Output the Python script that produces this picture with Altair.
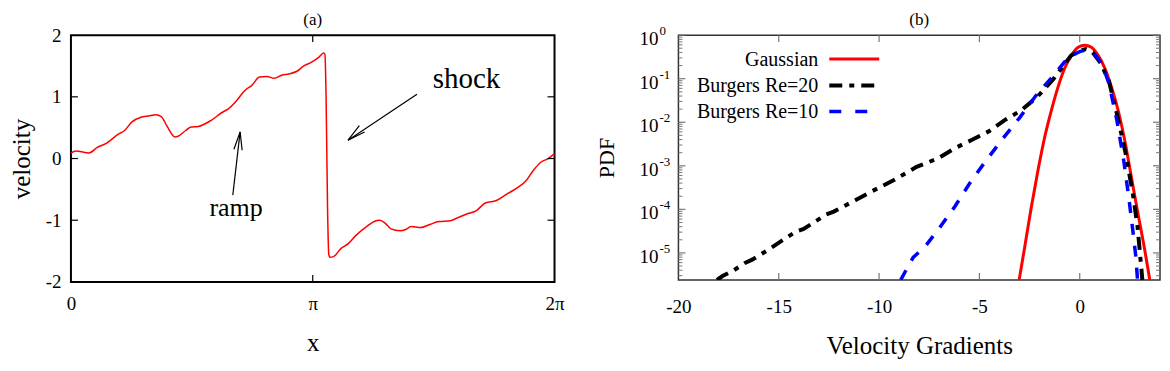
import math
import altair as alt
import pandas as pd

PI = math.pi
FONT = "Liberation Serif"

# ---------------- panel (a): velocity field ----------------
x_pos = [0.000, 0.067, 0.236, 0.342, 0.452, 0.621, 0.693, 0.789, 0.909, 1.006,
         1.102, 1.174, 1.246, 1.352, 1.390, 1.487, 1.559, 1.655, 1.823, 1.968,
         2.040, 2.160, 2.256, 2.353, 2.449, 2.545, 2.641, 2.738, 2.834, 2.930,
         3.026, 3.122, 3.219, 3.285, 3.300, 3.315, 3.334, 3.350, 3.363, 3.411,
         3.507, 3.603, 3.700, 3.844, 3.940, 4.013, 4.085, 4.157, 4.277, 4.349,
         4.421, 4.542, 4.662, 4.782, 4.927, 5.023, 5.143, 5.263, 5.384, 5.528,
         5.672, 5.817, 5.913, 6.009, 6.105, 6.201, 6.283]
velocity = [0.09, 0.12, 0.09, 0.18, 0.24, 0.40, 0.45, 0.59, 0.67, 0.69,
            0.71, 0.68, 0.53, 0.35, 0.36, 0.45, 0.51, 0.52, 0.62, 0.75,
            0.80, 0.95, 1.10, 1.19, 1.32, 1.33, 1.30, 1.35, 1.37, 1.41,
            1.50, 1.56, 1.64, 1.71, 1.69, 1.00, -0.80, -1.55, -1.60, -1.59,
            -1.46, -1.38, -1.25, -1.10, -1.02, -1.00, -1.05, -1.14, -1.17, -1.15,
            -1.10, -1.12, -1.07, -1.02, -1.01, -0.96, -0.90, -0.85, -0.72, -0.68,
            -0.57, -0.46, -0.36, -0.19, -0.06, 0.00, 0.08]

a_x_ticks = [0, PI, 2 * PI]
a_x_inner_ticks = [PI]
a_y_ticks = [-2, -1, 0, 1, 2]
a_y_inner_ticks = [-1, 0, 1]

# annotations (data coordinates)
shock_x, shock_v = [4.70], [1.14]
ramp_x, ramp_v = [2.146], [-0.934]
arrow_x0 = [4.496, 2.103]
arrow_v0 = [1.043, -0.594]
arrow_x1 = [3.600, 2.198]
arrow_v1 = [0.298, 0.432]
arrow_angle = [230.9, 6.6]

# ---------------- panel (b): PDF of velocity gradients ----------------
gauss_x = [-3.02, -2.74, -2.41, -2.08, -1.74, -1.41, -1.08, -0.75, -0.41, -0.08,
           0.25, 0.58, 0.91, 1.25, 1.58, 1.91, 2.24, 2.57, 2.90, 3.24, 3.49]
gauss_pdf = [2.4e-6, 1.38e-5, 1.15e-4, 7.9e-4, 4.7e-3, 1.9e-2, 6.5e-2, 0.174, 0.347, 0.525,
             0.589, 0.525, 0.347, 0.174, 6.5e-2, 1.9e-2, 3.9e-3, 5.6e-4, 8.1e-5, 1.17e-5, 2.4e-6]

re20_x = [-18.08, -17.80, -17.24, -16.68, -16.30, -15.46, -15.08, -14.14, -13.76, -12.64,
          -12.26, -11.14, -10.38, -9.26, -8.13, -7.06, -6.25, -5.39, -4.50, -3.74,
          -2.90, -2.10, -1.30, -0.81, -0.43, -0.06, 0.30, 0.65, 1.07, 1.25,
          1.45, 1.85, 2.28, 2.65, 2.88, 3.00, 3.12]
re20_pdf = [2.4e-6, 2.95e-6, 4.0e-6, 5.9e-6, 7.1e-6, 1.23e-5, 1.62e-5, 3.1e-5, 3.55e-5, 7.6e-5,
            8.9e-5, 1.66e-4, 2.57e-4, 4.7e-4, 9.5e-4, 1.48e-3, 2.5e-3, 3.9e-3, 6.3e-3, 1.12e-2,
            1.9e-2, 3.9e-2, 0.10, 0.20, 0.34, 0.43, 0.48, 0.40, 0.22, 0.141,
            8.9e-2, 1.58e-2, 2.0e-3, 2.24e-4, 4.0e-5, 1.0e-5, 2.4e-6]

re10_x = [-8.92, -8.72, -8.30, -7.70, -7.03, -6.23, -5.48, -4.70, -3.82, -3.00,
          -2.20, -1.35, -0.55, 0.00, 0.30, 0.70, 1.10, 1.45, 1.85, 2.20,
          2.45, 2.65, 2.80, 2.88]
re10_pdf = [2.4e-6, 3.55e-6, 7.9e-6, 1.41e-5, 3.55e-5, 1.15e-4, 4.0e-4, 1.26e-3, 4.3e-3, 1.26e-2,
            4.0e-2, 0.112, 0.316, 0.417, 0.457, 0.38, 0.224, 7.9e-2, 1.12e-2, 1.26e-3,
            1.78e-4, 3.16e-5, 7.9e-6, 2.4e-6]

b_x_ticks = [-20, -15, -10, -5, 0]
b_x_inner_ticks = [-15, -10, -5, 0]
b_decades = [1.0, 1e-1, 1e-2, 1e-3, 1e-4, 1e-5]
b_exponents = ["0", "-1", "-2", "-3", "-4", "-5"]
B_YMIN = 2.4e-6
b_minor = [m * 10.0 ** e for e in range(-6, 0) for m in range(2, 10) if m * 10.0 ** e >= B_YMIN]

legend_labels = ["Gaussian", "Burgers Re=20", "Burgers Re=10"]
panel_titles = ["(a)", "(b)"]

# ---------------- sizes ----------------
W_A, H_A = 484, 247
W_B, H_B = 482, 245

one = pd.DataFrame({"k": [0]})

# ================= panel (a) =================
a_df = pd.DataFrame({"x": x_pos, "v": velocity})
xs_a = alt.Scale(domain=[0, 2 * PI], nice=False, zero=False)
ys_a = alt.Scale(domain=[-2, 2], nice=False, zero=False)

x_axis_a = alt.Axis(values=a_x_ticks,
                    labelExpr="datum.value < 1 ? '0' : (datum.value < 4 ? 'π' : '2π')",
                    title="x", ticks=False, tickSize=0, domain=False, grid=False,
                    labelFont=FONT, labelFontSize=19, labelPadding=13, labelColor="black",
                    titleFont=FONT, titleFontSize=25, titleFontWeight="normal",
                    titleColor="black", titlePadding=17, labelFlush=False)
y_axis_a = alt.Axis(values=a_y_ticks, labelExpr="'' + datum.value",
                    title="velocity", ticks=False, tickSize=0, domain=False, grid=False,
                    labelFont=FONT, labelFontSize=19, labelPadding=10, labelColor="black",
                    titleFont=FONT, titleFontSize=25, titleFontWeight="normal",
                    titleColor="black", titlePadding=11)

line_a = alt.Chart(a_df).mark_line(color="#ff0000", strokeWidth=1.5, interpolate="monotone").encode(
    x=alt.X("x:Q", scale=xs_a, axis=x_axis_a),
    y=alt.Y("v:Q", scale=ys_a, axis=y_axis_a),
)

xt_a = pd.DataFrame({"x": a_x_inner_ticks})
yt_a = pd.DataFrame({"v": a_y_inner_ticks})
ticks_a = [
    alt.Chart(xt_a).mark_rule(color="black", strokeWidth=1.2).encode(
        x="x:Q", y=alt.value(H_A), y2=alt.value(H_A - 7)),
    alt.Chart(xt_a).mark_rule(color="black", strokeWidth=1.2).encode(
        x="x:Q", y=alt.value(0), y2=alt.value(7)),
    alt.Chart(yt_a).mark_rule(color="black", strokeWidth=1.2).encode(
        y="v:Q", x=alt.value(0), x2=alt.value(7)),
    alt.Chart(yt_a).mark_rule(color="black", strokeWidth=1.2).encode(
        y="v:Q", x=alt.value(W_A - 7), x2=alt.value(W_A)),
]

shock_txt = alt.Chart(pd.DataFrame({"x": shock_x, "v": shock_v, "t": ["shock"]})).mark_text(
    align="left", baseline="alphabetic", font=FONT, fontSize=29, color="black").encode(
    x="x:Q", y="v:Q", text="t:N")
ramp_txt = alt.Chart(pd.DataFrame({"x": ramp_x, "v": ramp_v, "t": ["ramp"]})).mark_text(
    align="center", baseline="alphabetic", font=FONT, fontSize=26, color="black").encode(
    x="x:Q", y="v:Q", text="t:N")

arr_df = pd.DataFrame({"x": arrow_x0, "v": arrow_v0, "x2": arrow_x1, "v2": arrow_v1,
                       "xe": arrow_x1, "ve": arrow_v1, "ang": arrow_angle})
arrow_shaft = alt.Chart(arr_df).mark_rule(color="black", strokeWidth=1.2).encode(
    x="x:Q", y="v:Q", x2="x2:Q", y2="v2:Q")
CHEVRON = "M-0.23,1L0,0L0.23,1"
arrow_head = alt.Chart(arr_df).mark_point(shape=CHEVRON, filled=False, size=1296,
                                          strokeWidth=1.2, color="black", opacity=1).encode(
    x=alt.X("xe:Q"), y=alt.Y("ve:Q"), angle=alt.Angle("ang:Q", scale=None))

title_a = alt.Chart(one).mark_text(align="center", baseline="alphabetic", font=FONT,
                                   fontSize=17, color="black").encode(
    x=alt.value(W_A / 2), y=alt.value(-10), text=alt.value(panel_titles[0]))

panel_a = alt.layer(line_a, *ticks_a, arrow_shaft, arrow_head, shock_txt, ramp_txt,
                    title_a).properties(
    width=W_A, height=H_A,
    view=alt.ViewBackground(stroke="black", strokeWidth=2),
)

# ================= panel (b) =================
xs_b = alt.Scale(domain=[-20, 4], nice=False, zero=False)
ys_b = alt.Scale(type="log", domain=[B_YMIN, 1], nice=False)

x_axis_b = alt.Axis(values=b_x_ticks, labelExpr="'' + datum.value",
                    title="Velocity Gradients", ticks=False, tickSize=0, domain=False, grid=False,
                    labelFont=FONT, labelFontSize=19, labelPadding=18, labelColor="black",
                    titleFont=FONT, titleFontSize=25, titleFontWeight="normal",
                    titleColor="black", titlePadding=17, labelFlush=False)
y_axis_b = alt.Axis(labels=False, ticks=False, tickSize=0, domain=False, grid=False,
                    title="PDF", titleFont=FONT, titleFontSize=22, titleFontWeight="normal",
                    titleColor="black", titlePadding=60)

g_df = pd.DataFrame({"x": gauss_x, "p": gauss_pdf})
r20_df = pd.DataFrame({"x": re20_x, "p": re20_pdf})
r10_df = pd.DataFrame({"x": re10_x, "p": re10_pdf})

enc_b = dict(x=alt.X("x:Q", scale=xs_b, axis=x_axis_b),
             y=alt.Y("p:Q", scale=ys_b, axis=y_axis_b))
gauss_line = alt.Chart(g_df).mark_line(color="#ff0000", strokeWidth=3, clip=True,
                                       interpolate="monotone").encode(**enc_b)
re20_line = alt.Chart(r20_df).mark_line(color="black", strokeWidth=4, clip=True,
                                        strokeDash=[13, 7, 5, 7], strokeCap="butt").encode(**enc_b)
re10_line = alt.Chart(r10_df).mark_line(color="#0000ff", strokeWidth=3.5, clip=True,
                                        strokeDash=[11, 11], strokeCap="butt").encode(**enc_b)

TICK_B = "#777777"
xt_b = pd.DataFrame({"x": b_x_inner_ticks})
maj_b = pd.DataFrame({"p": b_decades})
min_b = pd.DataFrame({"p": b_minor})
ticks_b = [
    alt.Chart(xt_b).mark_rule(color=TICK_B, strokeWidth=1.2).encode(
        x="x:Q", y=alt.value(H_B), y2=alt.value(H_B - 7)),
    alt.Chart(xt_b).mark_rule(color=TICK_B, strokeWidth=1.2).encode(
        x="x:Q", y=alt.value(0), y2=alt.value(7)),
    alt.Chart(maj_b).mark_rule(color=TICK_B, strokeWidth=1.2).encode(
        y="p:Q", x=alt.value(0), x2=alt.value(7)),
    alt.Chart(maj_b).mark_rule(color=TICK_B, strokeWidth=1.2).encode(
        y="p:Q", x=alt.value(W_B - 7), x2=alt.value(W_B)),
    alt.Chart(min_b).mark_rule(color=TICK_B, strokeWidth=1).encode(
        y="p:Q", x=alt.value(0), x2=alt.value(4)),
    alt.Chart(min_b).mark_rule(color=TICK_B, strokeWidth=1).encode(
        y="p:Q", x=alt.value(W_B - 4), x2=alt.value(W_B)),
]

ylab_df = pd.DataFrame({"p": b_decades, "base": ["10"] * len(b_decades), "e": b_exponents})
ylab_base = alt.Chart(ylab_df).mark_text(align="right", baseline="middle", font=FONT,
                                         fontSize=19, color="black", dy=4).encode(
    y="p:Q", x=alt.value(-20), text="base:N")
ylab_exp = alt.Chart(ylab_df).mark_text(align="left", baseline="middle", font=FONT,
                                        fontSize=13, color="black", dy=-4).encode(
    y="p:Q", x=alt.value(-19), text="e:N")

LEG_TX = 140
legend_layers = []
leg_styles = [
    dict(color="#ff0000", strokeWidth=3),
    dict(color="black", strokeWidth=4, strokeDash=[13, 7, 5, 7], strokeCap="butt"),
    dict(color="#0000ff", strokeWidth=3.5, strokeDash=[12, 14], strokeCap="butt"),
]
leg_text_y = [25, 51, 77]
leg_line_y = [24, 50.5, 76.5]
for lab, sty, ty, ly in zip(legend_labels, leg_styles, leg_text_y, leg_line_y):
    legend_layers.append(
        alt.Chart(one).mark_text(align="right", baseline="middle", font=FONT, fontSize=20,
                                 color="black").encode(
            x=alt.value(LEG_TX), y=alt.value(ty), text=alt.value(lab)))
    legend_layers.append(
        alt.Chart(one).mark_rule(**sty).encode(
            x=alt.value(151), x2=alt.value(201), y=alt.value(ly)))

title_b = alt.Chart(one).mark_text(align="center", baseline="alphabetic", font=FONT,
                                   fontSize=17, color="black").encode(
    x=alt.value(W_B / 2), y=alt.value(-10), text=alt.value(panel_titles[1]))

panel_b = alt.layer(gauss_line, re20_line, re10_line, *ticks_b, ylab_base, ylab_exp,
                    *legend_layers, title_b).properties(
    width=W_B, height=H_B,
    view=alt.ViewBackground(stroke="#333333", strokeWidth=1.5),
)

chart = alt.hconcat(panel_a, panel_b, spacing=29).properties(
    padding={"left": 0, "top": 2, "right": 0, "bottom": 0}
).configure(
    background="white", font=FONT
).configure_axis(
    labelFont=FONT, titleFont=FONT
).configure_text(font=FONT)

chart.save("out.html", embed_options={"renderer": "svg", "actions": False})
